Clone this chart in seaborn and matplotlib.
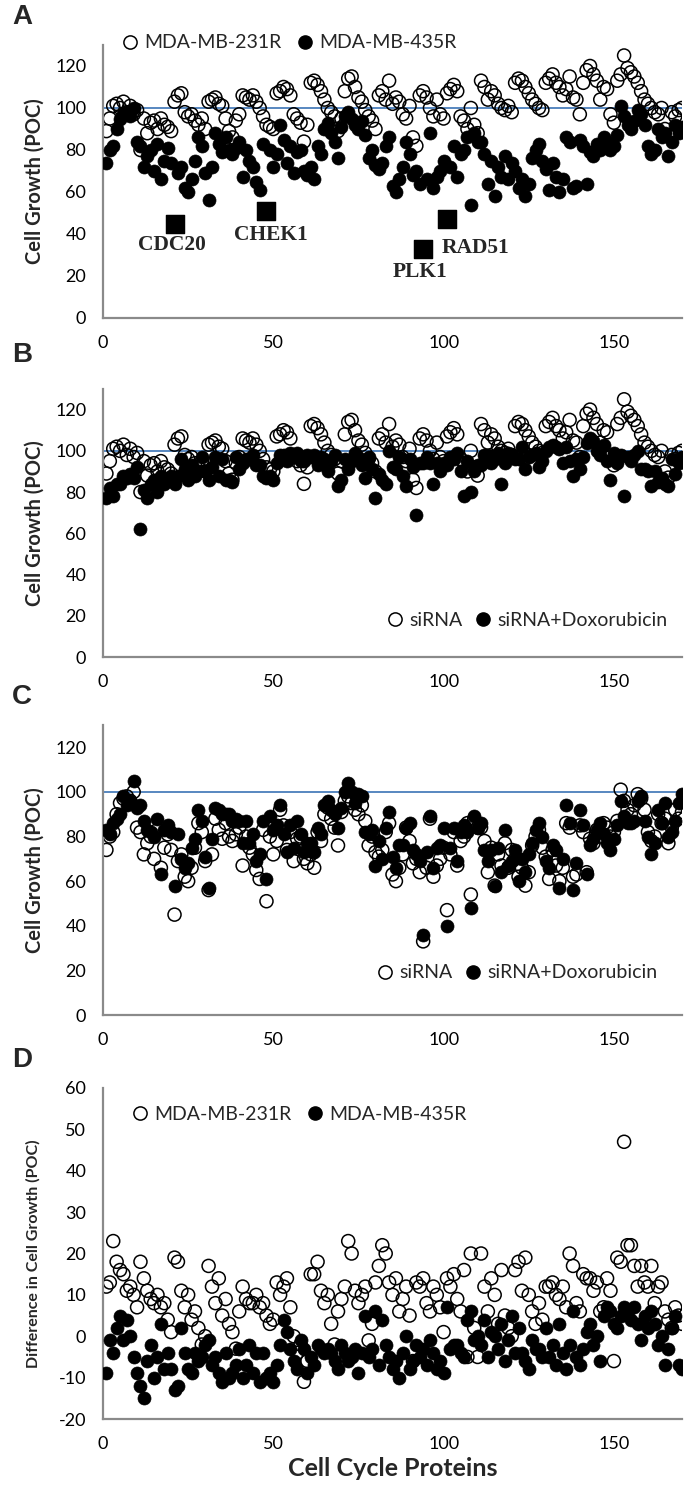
import numpy as np
import pandas as pd
import matplotlib
matplotlib.use("Agg")
import matplotlib.pyplot as plt
from matplotlib.lines import Line2D
import seaborn as sns

# ---------------- data ----------------
proteins = list(range(1, 171))

# MDA-MB-231R, siRNA alone (panel A open, panel B open)
sirna_231 = [
    89, 95, 101, 102, 100, 103, 98, 101, 97, 99,
    80, 95, 88, 93, 94, 90, 95, 92, 91, 89,
    103, 106, 107, 98, 96, 97, 94, 92, 95, 90,
    103, 104, 105, 102, 101, 95, 89, 86, 94, 97,
    106, 105, 104, 106, 103, 100, 96, 92, 91, 90,
    107, 108, 110, 109, 106, 97, 95, 93, 84, 92,
    112, 113, 111, 108, 104, 100, 98, 96, 89, 95,
    108, 114, 115, 110, 105, 103, 99, 96, 94, 90,
    106, 108, 104, 113, 102, 105, 103, 97, 95, 101,
    86, 82, 106, 108, 105, 100, 96, 104, 97, 95,
    107, 109, 111, 108, 96, 94, 90, 100, 92, 88,
    113, 110, 104, 108, 106, 102, 100, 99, 101, 98,
    112, 114, 113, 110, 107, 104, 102, 100, 99, 112,
    114, 116, 112, 110, 106, 109, 115, 105, 104, 97,
    112, 118, 120, 116, 113, 104, 110, 109, 97, 93,
    113, 116, 125, 119, 117, 115, 112, 108, 104, 102,
    100, 98, 97, 100, 90, 87, 98, 96, 99, 100,
]

# MDA-MB-231R, siRNA + Doxorubicin (panel B filled)
dox_231 = [
    77, 82, 78, 84, 84, 88, 87, 89, 87, 92,
    62, 81, 77, 84, 86, 80, 88, 84, 87, 88,
    84, 88, 96, 91, 86, 93, 88, 90, 97, 90,
    86, 92, 97, 88, 96, 86, 86, 85, 97, 91,
    94, 96, 96, 98, 93, 93, 88, 87, 88, 86,
    94, 98, 98, 95, 99, 97, 99, 95, 95, 98,
    97, 98, 93, 97, 96, 90, 95, 98, 83, 86,
    96, 91, 95, 99, 97, 93, 87, 97, 91, 77,
    89, 86, 84, 100, 92, 91, 97, 88, 83, 96,
    92, 69, 94, 94, 97, 94, 84, 94, 90, 94,
    93, 97, 96, 99, 90, 78, 95, 80, 90, 93,
    93, 98, 98, 94, 96, 99, 84, 94, 99, 98,
    96, 96, 102, 91, 97, 98, 99, 92, 95, 100,
    102, 103, 102, 101, 94, 102, 95, 88, 96, 91,
    97, 104, 106, 105, 100, 98, 103, 95, 86, 99,
    94, 98, 78, 97, 95, 98, 100, 91, 91, 90,
    83, 90, 85, 87, 84, 83, 96, 89, 94, 97,
]

# MDA-MB-435R, siRNA alone (panel A filled, panel C open)
sirna_435 = [
    74, 80, 82, 90, 95, 97, 98, 96, 100, 84,
    82, 72, 77, 80, 70, 83, 66, 75, 81, 74,
    45, 69, 72, 62, 60, 66, 75, 86, 82, 69,
    56, 72, 88, 83, 79, 86, 80, 78, 81, 84,
    67, 80, 75, 72, 65, 61, 83, 51, 80, 72,
    78, 92, 85, 74, 82, 69, 79, 80, 70, 68,
    72, 66, 82, 78, 90, 93, 88, 84, 76, 91,
    96, 98, 95, 92, 90, 94, 87, 76, 80, 73,
    71, 74, 82, 86, 63, 60, 66, 72, 84, 78,
    68, 70, 64, 33, 66, 88, 62, 67, 70, 75,
    47, 72, 82, 67, 78, 80, 86, 54, 88, 84,
    84, 78, 64, 75, 58, 72, 67, 77, 66, 74,
    70, 62, 66, 58, 64, 76, 80, 83, 75, 71,
    61, 74, 67, 60, 66, 86, 84, 62, 63, 85,
    82, 64, 79, 77, 83, 80, 86, 84, 80, 82,
    87, 101, 96, 92, 90, 94, 99, 97, 92, 82,
    78, 80, 90, 86, 88, 77, 84, 92, 88, 91,
]

# MDA-MB-435R, siRNA + Doxorubicin (panel C filled)
dox_435 = [
    83, 81, 86, 88, 90, 98, 94, 96, 105, 93,
    94, 87, 83, 82, 80, 88, 63, 83, 85, 82,
    58, 81, 70, 66, 68, 75, 79, 92, 87, 71,
    57, 79, 93, 92, 90, 90, 90, 87, 88, 87,
    77, 87, 77, 81, 69, 72, 87, 61, 89, 83,
    85, 94, 81, 73, 85, 75, 87, 81, 73, 77,
    77, 73, 84, 81, 94, 96, 92, 90, 84, 93,
    100, 104, 100, 95, 99, 98, 82, 81, 83, 67,
    78, 70, 84, 91, 71, 66, 76, 76, 84, 86,
    74, 72, 69, 36, 73, 89, 66, 75, 76, 84,
    40, 75, 84, 69, 82, 85, 82, 48, 89, 84,
    86, 74, 69, 74, 58, 75, 64, 83, 67, 69,
    74, 60, 70, 64, 72, 77, 83, 86, 80, 69,
    66, 76, 74, 57, 70, 94, 86, 56, 68, 92,
    85, 63, 76, 79, 83, 86, 81, 77, 74, 79,
    85, 96, 89, 86, 86, 87, 96, 98, 87, 80,
    72, 77, 92, 86, 95, 80, 82, 87, 95, 99,
]

# Panel D: difference in cell growth (siRNA - siRNA+Doxorubicin)
diff_231 = [
    12, 13, 23, 18, 16, 15, 11, 12, 10, 7,
    18, 14, 11, 9, 8, 10, 7, 8, 4, 1,
    19, 18, 11, 7, 10, 4, 6, 2, -2, 0,
    17, 12, 8, 14, 5, 9, 3, 1, -3, 6,
    12, 9, 8, 8, 10, 7, 8, 5, 3, 4,
    13, 10, 12, 14, 7, 0, -4, -2, -11, -6,
    15, 15, 18, 11, 8, 10, 3, -2, 6, 9,
    12, 23, 20, 11, 8, 10, 12, -1, 3, 13,
    17, 22, 20, 13, 10, 14, 6, 9, 12, 5,
    -6, 13, 12, 14, 8, 6, 12, 10, 7, 1,
    14, 12, 15, 9, 6, 16, -5, 20, 2, -5,
    20, 12, 6, 14, 10, 3, 16, 5, 2, 0,
    16, 18, 11, 19, 10, 6, 3, 8, 4, 12,
    12, 13, 10, 9, 12, 7, 20, 17, 8, 6,
    15, 14, 14, 11, 13, 6, 7, 14, 11, -6,
    19, 18, 47, 22, 22, 17, 12, 17, 13, 12,
    17, 8, 12, 13, 6, 4, 2, 7, 5, 3,
]
diff_435 = [
    -9, -1, -4, 2, 5, -1, 4, 0, -5, -9,
    -12, -15, -6, -2, -10, -5, 3, -8, -4, -8,
    -13, -12, 2, -4, -8, -9, -4, -6, -5, -2,
    -1, -7, -5, -9, -11, -4, -10, -9, -7, -3,
    -10, -7, -2, -9, -4, -11, -4, -10, -9, -11,
    -7, -2, 4, 1, -3, -6, -8, -1, -3, -9,
    -5, -7, -2, -3, -4, -3, -4, -6, -8, -2,
    -4, -6, -5, -3, -9, -4, 5, -5, -3, 6,
    -7, 4, -2, -5, -8, -6, -10, -4, 0, -8,
    -6, -2, -5, -3, -7, -1, -4, -8, -6, -9,
    7, -3, -2, -2, -4, -5, 4, 6, -1, 0,
    -2, 4, -5, 1, 0, -3, 3, -6, -1, 5,
    -4, 2, -4, -6, -8, -1, -3, -3, -5, 2,
    -5, -2, -7, 3, -4, -8, -2, 6, -5, -7,
    -3, 1, 3, -2, 0, -6, 5, 7, 6, 3,
    2, 5, 7, 6, 4, 7, 3, -1, 5, 2,
    6, 3, -2, 0, -7, -3, 2, 5, -7, -8,
]

highlight_genes = ["CDC20", "CHEK1", "PLK1", "RAD51"]
highlight_proteins = [21, 48, 94, 101]

df = pd.DataFrame({
    "protein": proteins,
    "sirna_231": sirna_231, "dox_231": dox_231,
    "sirna_435": sirna_435, "dox_435": dox_435,
    "diff_231": diff_231, "diff_435": diff_435,
})
df["highlight"] = df["protein"].isin(highlight_proteins)

# ---------------- style ----------------
sns.set_style("white")
plt.rcParams["font.family"] = ["Lato", "DejaVu Sans"]
plt.rcParams["axes.unicode_minus"] = False

W, H = 684, 1493
fig = plt.figure(figsize=(W / 100, H / 100), dpi=100)


def add_ax(top, bottom, left=103, right=682):
    return fig.add_axes([left / W, 1 - bottom / H, (right - left) / W, (bottom - top) / H])


GRAY = "#8a8a8a"
BLUE = "#4a7ebb"
OPEN_KW = dict(marker="o", s=88, facecolor="none", edgecolor="black", linewidth=1.1)
FILL_KW = dict(marker="o", s=88, color="black", edgecolor="black", linewidth=0.5)


def style(ax, ylim, yticks, ylabel, ylabel_size=14.5, ylabel_x=-0.1):
    ax.set_xlim(0, 170)
    ax.set_ylim(*ylim)
    ax.set_xticks([0, 50, 100, 150])
    ax.set_yticks(yticks)
    for s in ["top", "right"]:
        ax.spines[s].set_visible(False)
    for s in ["left", "bottom"]:
        ax.spines[s].set_color(GRAY)
        ax.spines[s].set_linewidth(1.6)
    ax.tick_params(axis="both", direction="out", length=7, width=1.4, color=GRAY,
                   labelsize=13, labelcolor="black", pad=5)
    ax.set_xlabel("")
    ax.set_ylabel(ylabel, fontsize=ylabel_size, fontweight="bold")
    ax.yaxis.set_label_coords(ylabel_x, 0.5)


def legend(ax, labels, anchor, colspace):
    handles = [
        Line2D([], [], ls="none", marker="o", markersize=9.5, markerfacecolor="none",
               markeredgecolor="black", markeredgewidth=1.1),
        Line2D([], [], ls="none", marker="o", markersize=9.5, markerfacecolor="black",
               markeredgecolor="black"),
    ]
    ax.legend(handles, labels, ncol=2, loc="center left", bbox_to_anchor=anchor,
              frameon=False, fontsize=14, handlelength=1.0, handletextpad=0.25,
              columnspacing=colspace, borderpad=0, borderaxespad=0)


# ---------------- Panel A ----------------
axA = add_ax(45, 318)
axA.axhline(100, color=BLUE, lw=1.3, zorder=1)
sns.scatterplot(data=df, x="protein", y="sirna_231", ax=axA, zorder=2, **OPEN_KW)
sns.scatterplot(data=df[~df["highlight"]], x="protein", y="sirna_435", ax=axA, zorder=3, **FILL_KW)
sns.scatterplot(data=df[df["highlight"]], x="protein", y="sirna_435", ax=axA, zorder=4,
                marker="s", s=170, color="black", edgecolor="black")
label_offsets = {"CDC20": (-0.7, -10), "CHEK1": (1.4, -11.5), "PLK1": (-0.8, -11), "RAD51": (8.4, -13.7)}
hl = df[df["highlight"]]
for gene, (_, row) in zip(highlight_genes, hl.iterrows()):
    dx, dy = label_offsets[gene]
    axA.text(row["protein"] + dx, row["sirna_435"] + dy, gene, ha="center", va="center",
             fontsize=15.5, fontweight="bold", family=["Liberation Serif", "DejaVu Serif"])
style(axA, (0, 130), range(0, 121, 20), "Cell Growth (POC)")
legend(axA, ["MDA-MB-231R", "MDA-MB-435R"], (0.029, 1.008), 0.7)

# ---------------- Panel B ----------------
axB = add_ax(389, 657)
axB.axhline(100, color=BLUE, lw=1.3, zorder=1)
sns.scatterplot(data=df, x="protein", y="sirna_231", ax=axB, zorder=2, **OPEN_KW)
sns.scatterplot(data=df, x="protein", y="dox_231", ax=axB, zorder=3, **FILL_KW)
style(axB, (0, 130), range(0, 121, 20), "Cell Growth (POC)")
legend(axB, ["siRNA", "siRNA+Doxorubicin"], (0.487, 0.138), 0.55)

# ---------------- Panel C ----------------
axC = add_ax(725, 1015)
axC.axhline(100, color=BLUE, lw=1.3, zorder=1)
sns.scatterplot(data=df, x="protein", y="sirna_435", ax=axC, zorder=2, **OPEN_KW)
sns.scatterplot(data=df, x="protein", y="dox_435", ax=axC, zorder=3, **FILL_KW)
style(axC, (0, 130), range(0, 121, 20), "Cell Growth (POC)")
legend(axC, ["siRNA", "siRNA+Doxorubicin"], (0.47, 0.145), 0.55)

# ---------------- Panel D ----------------
axD = add_ax(1088, 1419)
sns.scatterplot(data=df, x="protein", y="diff_231", ax=axD, zorder=2, **OPEN_KW)
sns.scatterplot(data=df, x="protein", y="diff_435", ax=axD, zorder=3, **FILL_KW)
style(axD, (-20, 60), range(-20, 61, 10), "Difference in Cell Growth (POC)",
      ylabel_size=11.5, ylabel_x=-0.108)
axD.set_xlabel("Cell Cycle Proteins", fontsize=18, fontweight="bold", labelpad=4)
legend(axD, ["MDA-MB-231R", "MDA-MB-435R"], (0.047, 0.92), 0.7)

# panel letters
for letter, ypix in zip("ABCD", [17, 355, 697, 1060]):
    fig.text(22 / W, 1 - ypix / H, letter, fontsize=20, fontweight="bold",
             ha="center", va="center", family=["Liberation Sans", "DejaVu Sans"])

fig.savefig("out.png", dpi=100)
